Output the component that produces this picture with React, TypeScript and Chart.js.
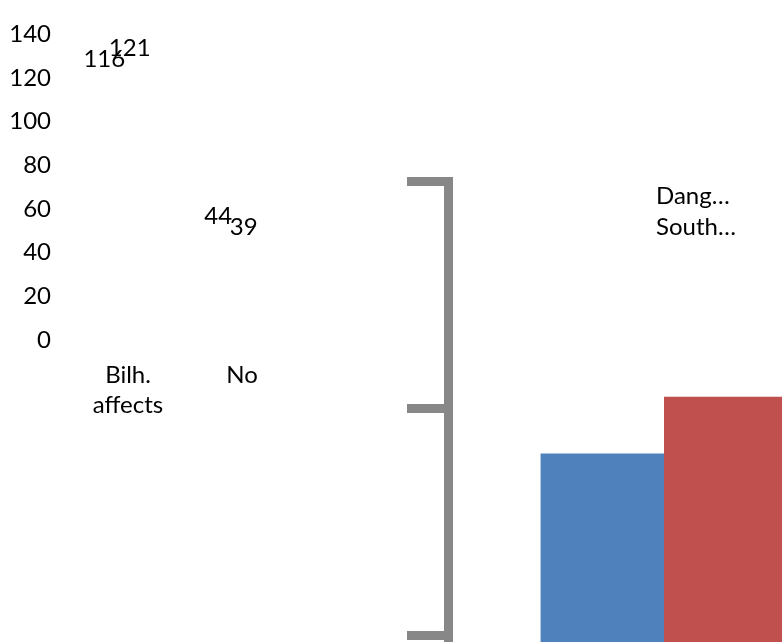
import React, { useEffect, useRef } from "react";
import { Chart, registerables } from "chart.js";

Chart.register(...registerables);

const categories = ["Bilh. affects", "No"];
const seriesNames = ["Dang…", "South…"];
const seriesA = [116, 44];
const seriesB = [121, 39];
const yTicks = { min: 0, max: 140, step: 20 };

const FONT = "Lato";
const BLUE = "#4F81BD";
const RED = "#C0504D";
const GRAY = "#878787";

const labelPlugin = {
  id: "valueLabels",
  afterDatasetsDraw(chart: any) {
    const ctx = chart.ctx;
    ctx.save();
    ctx.font = `24px ${FONT}`;
    ctx.fillStyle = "#000";
    ctx.textAlign = "center";
    ctx.textBaseline = "middle";
    chart.data.datasets.forEach((ds: any, di: number) => {
      const meta = chart.getDatasetMeta(di);
      meta.data.forEach((el: any, i: number) => {
        ctx.fillText(String(ds.data[i]), el.x - 11, el.y - 28);
      });
    });
    ctx.restore();
  },
};

const legendPlugin = {
  id: "textLegend",
  afterDraw(chart: any) {
    const ctx = chart.ctx;
    ctx.save();
    ctx.font = `24px ${FONT}`;
    ctx.fillStyle = "#000";
    ctx.textAlign = "left";
    ctx.textBaseline = "middle";
    chart.data.datasets.forEach((ds: any, i: number) => {
      ctx.fillText(ds.label, 656, 196.5 + i * 31);
    });
    ctx.restore();
  },
};

export default function App() {
  const ref1 = useRef<HTMLCanvasElement>(null);
  const ref2 = useRef<HTMLCanvasElement>(null);

  useEffect(() => {
    const c1 = new Chart(ref1.current!, {
      type: "bar",
      data: {
        labels: categories.map((c) => c.split(" ")),
        datasets: [
          { label: seriesNames[0], data: seriesA, backgroundColor: "rgba(0,0,0,0)" },
          { label: seriesNames[1], data: seriesB, backgroundColor: "rgba(0,0,0,0)" },
        ],
      },
      options: {
        responsive: false,
        animation: false,
        events: [],
        layout: { padding: { left: 11, top: 20.5, right: 483, bottom: 222 } },
        datasets: { bar: { categoryPercentage: 0.446, barPercentage: 1 } },
        plugins: { legend: { display: false }, tooltip: { enabled: false } },
        scales: {
          x: {
            grid: { display: false, drawTicks: false },
            border: { display: false },
            ticks: {
              color: "#000",
              font: { family: FONT, size: 24, lineHeight: 1.25 },
              padding: 20,
              maxRotation: 0,
              autoSkip: false,
            },
            afterFit: (s: any) => {
              s.height = 80;
            },
          },
          y: {
            min: yTicks.min,
            max: yTicks.max,
            grid: { display: false, drawTicks: false },
            border: { display: false },
            ticks: {
              stepSize: yTicks.step,
              color: "#000",
              font: { family: FONT, size: 24 },
              padding: 20,
            },
            afterFit: (s: any) => {
              s.width = 60;
            },
          },
        },
      },
      plugins: [labelPlugin, legendPlugin],
    });

    const c2 = new Chart(ref2.current!, {
      type: "bar",
      data: {
        labels: categories,
        datasets: [
          { label: seriesNames[0], data: seriesA, backgroundColor: BLUE },
          { label: seriesNames[1], data: seriesB, backgroundColor: RED },
        ],
      },
      options: {
        responsive: false,
        animation: false,
        events: [],
        layout: { padding: { left: 407, top: 181, right: 88, bottom: 129 } },
        datasets: { bar: { categoryPercentage: 1 / 1.75, barPercentage: 1 } },
        plugins: { legend: { display: false }, tooltip: { enabled: false } },
        scales: {
          x: { display: false },
          y: {
            min: yTicks.min,
            max: yTicks.max,
            ticks: { stepSize: yTicks.step, display: false },
            grid: {
              drawOnChartArea: false,
              color: GRAY,
              lineWidth: 9,
              tickLength: 41,
            },
            border: { display: true, color: GRAY, width: 9 },
          },
        },
      },
    });

    return () => {
      c1.destroy();
      c2.destroy();
    };
  }, []);

  return (
    <div
      style={{
        position: "fixed",
        left: 0,
        top: 0,
        width: 782,
        height: 642,
        overflow: "hidden",
        background: "#fff",
      }}
    >
      <canvas
        ref={ref2}
        width={1400}
        height={1900}
        style={{ position: "absolute", left: 0, top: 0, width: 1400, height: 1900 }}
      />
      <canvas
        ref={ref1}
        width={782}
        height={642}
        style={{ position: "absolute", left: 0, top: 0, width: 782, height: 642 }}
      />
    </div>
  );
}
